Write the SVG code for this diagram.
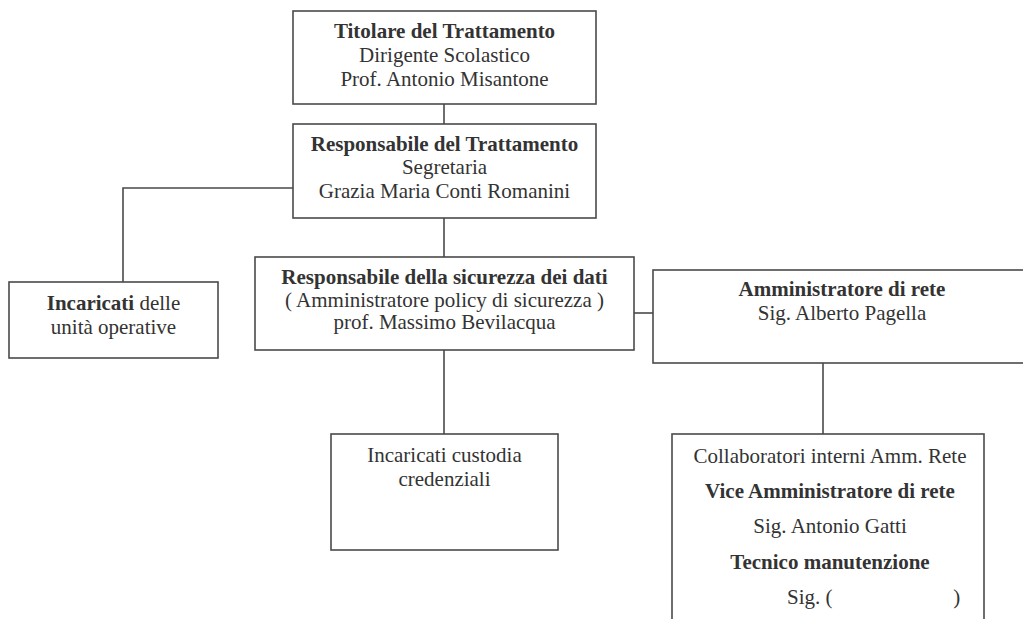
<svg xmlns="http://www.w3.org/2000/svg" width="1023" height="619" viewBox="0 0 1023 619">
<style>
.box{fill:#fff;stroke:#4a4a4a;stroke-width:1.6}
.conn{fill:none;stroke:#4a4a4a;stroke-width:1.6}
text{font-family:"Liberation Serif","Times New Roman",serif;font-size:21px;fill:#333;text-anchor:middle}
.b{font-weight:bold}
</style>
<rect width="1023" height="619" fill="#fff"/>
<g id="connectors">
<line class="conn" x1="444" y1="104" x2="444" y2="124"/>
<polyline class="conn" points="293,188 123,188 123,282"/>
<line class="conn" x1="444" y1="218" x2="444" y2="257"/>
<line class="conn" x1="634" y1="313" x2="653" y2="313"/>
<line class="conn" x1="444" y1="350" x2="444" y2="434"/>
<line class="conn" x1="823" y1="363" x2="823" y2="434"/>
</g>
<g id="titolare">
<rect class="box" x="293" y="11" width="303" height="93"/>
<text x="444.5" y="38" class="b">Titolare del Trattamento</text>
<text x="444.5" y="62">Dirigente Scolastico</text>
<text x="444.5" y="86">Prof. Antonio Misantone</text>
</g>
<g id="responsabile-trattamento">
<rect class="box" x="293" y="124" width="303" height="94"/>
<text x="444.5" y="151" class="b">Responsabile del Trattamento</text>
<text x="444.5" y="174">Segretaria</text>
<text x="444.5" y="198">Grazia Maria Conti Romanini</text>
</g>
<g id="incaricati-unita">
<rect class="box" x="9" y="282" width="209" height="76"/>
<text x="113.5" y="310"><tspan class="b">Incaricati</tspan> delle</text>
<text x="113.5" y="334">unità operative</text>
</g>
<g id="responsabile-sicurezza">
<rect class="box" x="255" y="257" width="379" height="93"/>
<text x="444.5" y="284" class="b">Responsabile della sicurezza dei dati</text>
<text x="444.5" y="307">( Amministratore policy di sicurezza )</text>
<text x="444.5" y="329">prof. Massimo Bevilacqua</text>
</g>
<g id="amministratore-rete">
<rect class="box" x="653" y="270" width="380" height="93"/>
<text x="842" y="296" class="b">Amministratore di rete</text>
<text x="842" y="320">Sig. Alberto Pagella</text>
</g>
<g id="incaricati-custodia">
<rect class="box" x="331" y="434" width="227" height="116"/>
<text x="444.5" y="462">Incaricati custodia</text>
<text x="444.5" y="486">credenziali</text>
</g>
<g id="collaboratori">
<rect class="box" x="672" y="434" width="312" height="200"/>
<text x="830" y="463">Collaboratori interni Amm. Rete</text>
<text x="830" y="498" class="b">Vice Amministratore di rete</text>
<text x="830" y="533">Sig. Antonio Gatti</text>
<text x="830" y="569" class="b">Tecnico manutenzione</text>
<text x="787" y="604" style="text-anchor:start;white-space:pre" xml:space="preserve">Sig. (                       )</text>
</g>
</svg>
